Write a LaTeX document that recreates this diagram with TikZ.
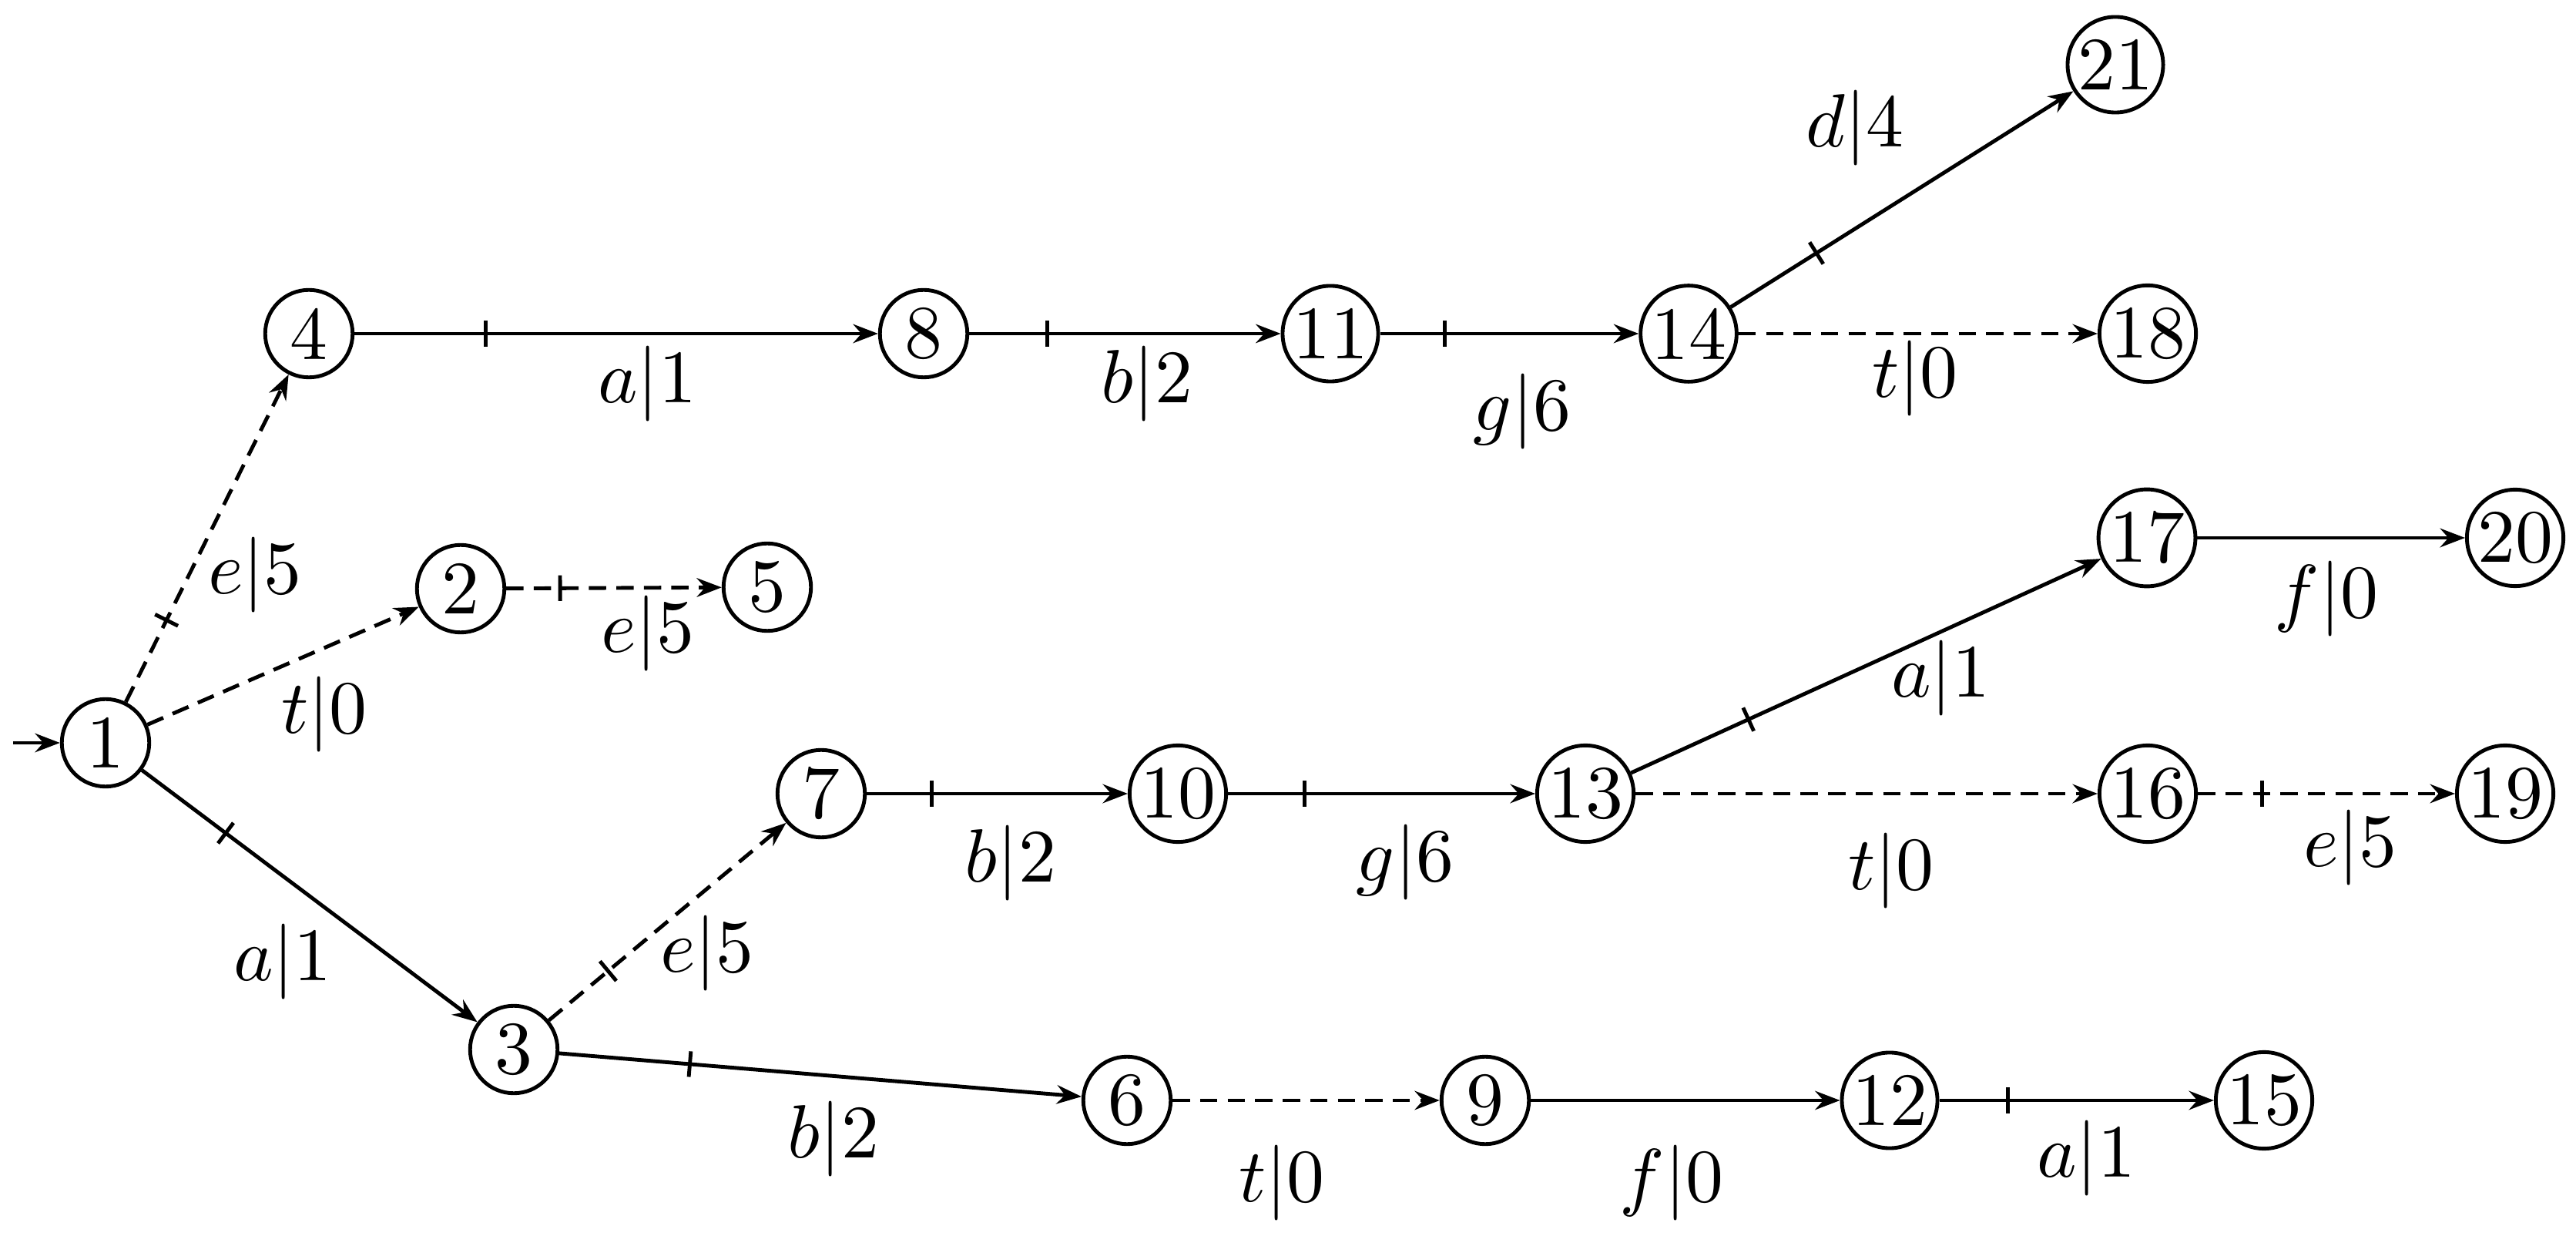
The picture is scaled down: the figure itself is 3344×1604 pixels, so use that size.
\documentclass[tikz,border=0pt]{standalone}
\usetikzlibrary{arrows.meta,decorations.markings}
\tikzset{
  st/.style={draw, circle, line width=0.5pt, inner sep=0.25pt, minimum size=11.6pt},
  arr/.style={line width=0.5pt, -{Stealth[length=3.3pt,width=2.5pt,inset=1.1pt]}},
  dsh/.style={dash pattern=on 2.3pt off 1.35pt},
  tick/.style={postaction={decorate, decoration={markings,
      mark=at position 0.25 with {\draw[solid, -, line width=0.5pt] (0,-1.7pt) -- (0,1.7pt);}}}},
  lbl/.style={anchor=base, inner sep=0pt}
}
\begin{document}
\begin{tikzpicture}[x=0.1022pt, y=-0.1022pt]
\useasboundingbox (0,0) rectangle (3344,1604);
% states
\node[st] (n1)  at (137,964)  {1};
\node[st] (n2)  at (598,764)  {2};
\node[st] (n3)  at (667,1362) {3};
\node[st] (n4)  at (401,433)  {4};
\node[st] (n5)  at (996,762)  {5};
\node[st] (n6)  at (1463,1428) {6};
\node[st] (n7)  at (1066,1030) {7};
\node[st] (n8)  at (1199,433) {8};
\node[st] (n9)  at (1928,1428) {9};
\node[st] (n10) at (1529,1030) {10};
\node[st] (n11) at (1727,433) {11};
\node[st] (n12) at (2453,1428) {12};
\node[st] (n13) at (2058,1030) {13};
\node[st] (n14) at (2192,433) {14};
\node[st] (n15) at (2939,1428) {15};
\node[st] (n16) at (2788,1030) {16};
\node[st] (n17) at (2787,698) {17};
\node[st] (n18) at (2788,433) {18};
\node[st] (n19) at (3252,1030) {19};
\node[st] (n20) at (3265,698) {20};
\node[st] (n21) at (2746,84) {21};
% initial arrow
\coordinate (init) at (17,964);
\draw[arr] (init) -- (n1);
% transitions
\draw[arr,dsh,tick] (n1) -- (n4);
\draw[arr,dsh] (n1) -- (n2);
\draw[arr,tick] (n1) -- (n3);
\draw[arr,dsh,tick] (n2) -- (n5);
\draw[arr,dsh,tick] (n3) -- (n7);
\draw[arr,tick] (n3) -- (n6);
\draw[arr,tick] (n4) -- (n8);
\draw[arr,tick] (n8) -- (n11);
\draw[arr,tick] (n11) -- (n14);
\draw[arr,tick] (n14) -- (n21);
\draw[arr,dsh] (n14) -- (n18);
\draw[arr,tick] (n7) -- (n10);
\draw[arr,tick] (n10) -- (n13);
\draw[arr,tick] (n13) -- (n17);
\draw[arr] (n17) -- (n20);
\draw[arr,dsh] (n13) -- (n16);
\draw[arr,dsh,tick] (n16) -- (n19);
\draw[arr,dsh] (n6) -- (n9);
\draw[arr] (n9) -- (n12);
\draw[arr,tick] (n12) -- (n15);
% labels
\node[lbl] (l14)   at (331,771)   {$e|5$};
\node[lbl] (l12)   at (421,951)   {$t|0$};
\node[lbl] (l25)   at (841,847)   {$e|5$};
\node[lbl] (l13)   at (367,1272)  {$a|1$};
\node[lbl] (l37)   at (918,1262)  {$e|5$};
\node[lbl] (l36)   at (1082,1502) {$b|2$};
\node[lbl] (l48)   at (840,523)   {$a|1$};
\node[lbl] (l811)  at (1489,523)  {$b|2$};
\node[lbl] (l1114) at (1976,559)  {$g|6$};
\node[lbl] (l1418) at (2486,516)  {$t|0$};
\node[lbl] (l1421) at (2408,191)  {$d|4$};
\node[lbl] (l710)  at (1312,1145) {$b|2$};
\node[lbl] (l1013) at (1824,1144) {$g|6$};
\node[lbl] (l1317) at (2519,905)  {$a|1$};
\node[lbl] (l1720) at (3020,802)  {$f|0$};
\node[lbl] (l1316) at (2455,1154) {$t|0$};
\node[lbl] (l1619) at (3051,1124) {$e|5$};
\node[lbl] (l69)   at (1664,1559) {$t|0$};
\node[lbl] (l912)  at (2170,1559) {$f|0$};
\node[lbl] (l1215) at (2708,1527) {$a|1$};
\end{tikzpicture}
\end{document}
